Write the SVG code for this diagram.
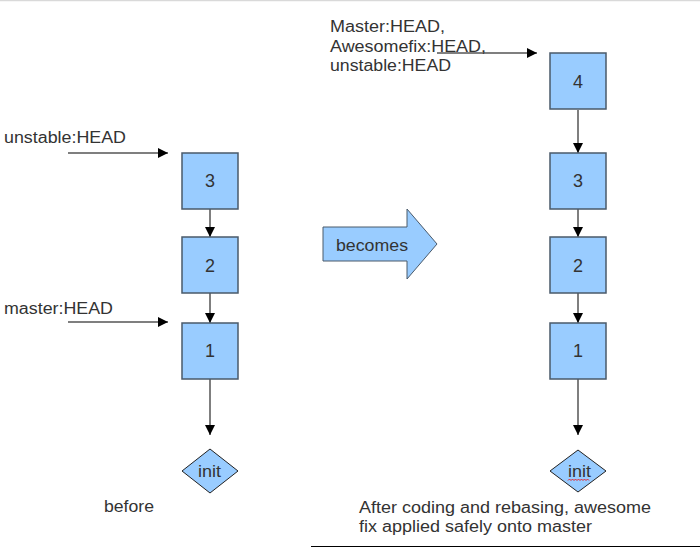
<svg xmlns="http://www.w3.org/2000/svg" width="700" height="551" viewBox="0 0 700 551">
<defs>
<style>
text{font-family:"Liberation Sans",Arial,sans-serif;fill:#333333;}
.lbl{font-size:16px;}
.num{font-size:18px;text-anchor:middle;}
.box{fill:#99ccff;stroke:#4a5a6a;stroke-width:1.5;}
.dia{fill:#99ccff;stroke:#222;stroke-width:1;}
.con{stroke:#555;stroke-width:1.5;fill:none;marker-end:url(#ah);}
</style>
<marker id="ah" viewBox="0 0 10 10" refX="10" refY="5" markerWidth="10" markerHeight="10" markerUnits="userSpaceOnUse" orient="auto">
<path d="M0,0 L10,5 L0,10 Z" fill="#000"/>
</marker>
</defs>
<rect width="700" height="551" fill="#ffffff"/>
<line x1="0" y1="0.5" x2="700" y2="0.5" stroke="#d9d9d9" stroke-width="1.5"/>
<line x1="311" y1="546.5" x2="700" y2="546.5" stroke="#000" stroke-width="1"/>

<g id="connectors">
<line class="con" x1="68" y1="153" x2="168" y2="153"/>
<line class="con" x1="68" y1="322" x2="168" y2="322"/>
<line class="con" x1="210" y1="209" x2="210" y2="237"/>
<line class="con" x1="210" y1="293" x2="210" y2="323"/>
<line class="con" x1="210" y1="379" x2="210" y2="435"/>
<line class="con" x1="437" y1="53" x2="537" y2="53"/>
<line class="con" x1="578" y1="110" x2="578" y2="153"/>
<line class="con" x1="578" y1="209" x2="578" y2="237"/>
<line class="con" x1="578" y1="293" x2="578" y2="323"/>
<line class="con" x1="578" y1="379" x2="578" y2="435"/>
</g>

<g id="label-unstable-left"><text class="lbl" x="4" y="143" textLength="122" lengthAdjust="spacingAndGlyphs">unstable:HEAD</text></g>
<g id="label-master-left"><text class="lbl" x="4" y="314" textLength="109" lengthAdjust="spacingAndGlyphs">master:HEAD</text></g>

<g id="left-3"><rect class="box" x="182" y="153" width="56" height="56"/><text class="num" x="210" y="187">3</text></g>
<g id="left-2"><rect class="box" x="182" y="237" width="56" height="56"/><text class="num" x="210" y="272">2</text></g>
<g id="left-1"><rect class="box" x="182" y="323" width="56" height="56"/><text class="num" x="210" y="357">1</text></g>
<g id="left-init"><polygon class="dia" points="210,449 238,471 210,493 182,471"/><text class="lbl" x="198" y="477" textLength="23" lengthAdjust="spacingAndGlyphs">init</text></g>
<g id="label-before"><text class="lbl" x="104" y="512" textLength="50" lengthAdjust="spacingAndGlyphs">before</text></g>

<g id="becomes">
<polygon points="323,227 407,227 407,209 437,244 407,279 407,261 323,261" fill="#99ccff" stroke="#4a5a6a" stroke-width="1"/>
<text class="lbl" x="336" y="251" textLength="72" lengthAdjust="spacingAndGlyphs">becomes</text>
</g>

<g id="label-heads-right">
<text class="lbl" x="330" y="32" textLength="115" lengthAdjust="spacingAndGlyphs">Master:HEAD,</text>
<text class="lbl" x="330" y="52" textLength="156" lengthAdjust="spacingAndGlyphs">Awesomefix:HEAD,</text>
<text class="lbl" x="330" y="71" textLength="121" lengthAdjust="spacingAndGlyphs">unstable:HEAD</text>
</g>

<g id="right-4"><rect class="box" x="550" y="53" width="56" height="56"/><text class="num" x="578" y="88">4</text></g>
<g id="right-3"><rect class="box" x="550" y="153" width="56" height="56"/><text class="num" x="578" y="187">3</text></g>
<g id="right-2"><rect class="box" x="550" y="237" width="56" height="56"/><text class="num" x="578" y="272">2</text></g>
<g id="right-1"><rect class="box" x="550" y="323" width="56" height="56"/><text class="num" x="578" y="357">1</text></g>
<g id="right-init"><polygon class="dia" points="578,450 606,471 578,492 550,471"/><text class="lbl" x="568" y="477" textLength="23" lengthAdjust="spacingAndGlyphs">init</text>
<path d="M568,480.5 l1.5,-1.5 l1.5,1.5 l1.5,-1.5 l1.5,1.5 l1.5,-1.5 l1.5,1.5 l1.5,-1.5 l1.5,1.5 l1.5,-1.5 l1.5,1.5 l1.5,-1.5 l1.5,1.5 l1.5,-1.5 l1.5,1.5" fill="none" stroke="#e00" stroke-width="0.8"/>
</g>

<g id="label-after">
<text class="lbl" x="359" y="513" textLength="292" lengthAdjust="spacingAndGlyphs">After coding and rebasing, awesome</text>
<text class="lbl" x="359" y="532" textLength="233" lengthAdjust="spacingAndGlyphs">fix applied safely onto master</text>
</g>
</svg>
